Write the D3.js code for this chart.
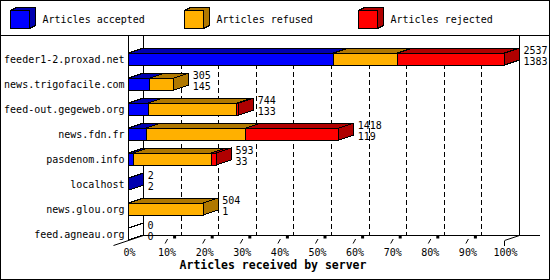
<!DOCTYPE html>
<html>
<head>
<meta charset="utf-8">
<script src="https://cdn.jsdelivr.net/npm/d3@7"></script>
<style>
  body { margin: 0; background: #fff; }
  text { font-family: "DejaVu Sans Mono", monospace; font-size: 10px; fill: #000; }
</style>
</head>
<body>
<div id="chart1"></div>
<script>
// Data
const servers = ["feeder1-2.proxad.net", "news.trigofacile.com", "feed-out.gegeweb.org", "news.fdn.fr",
                 "pasdenom.info", "localhost", "news.glou.org", "feed.agneau.org"];
const accepted = [1383, 145, 133, 119, 33, 2, 1, 0];
const refused  = [432, 160, 598, 672, 526, 0, 503, 0];
const rejected = [722, 0, 13, 627, 34, 0, 0, 0];
const seriesNames = ["Articles accepted", "Articles refused", "Articles rejected"];
const xTicks = [0, 10, 20, 30, 40, 50, 60, 70, 80, 90, 100];

const colors = ["#0000ff", "#ffb000", "#ff0000"];
const darks  = ["#0000b0", "#b07800", "#b00000"];

createChart();

function createChart() {
    const width = 550, height = 280;
    const DX = 15, DY = 5; // depth of the 3d box

    const svg = d3.select("#chart1").append("svg")
        .attr("width", width)
        .attr("height", height);

    const totals = servers.map((s, i) => accepted[i] + refused[i] + rejected[i]);
    const maxTotal = d3.max(totals);

    const x = d3.scaleLinear().domain([0, 100]).range([128.5, 504.5]);
    const y = d3.scalePoint().domain(servers).range([59, 234]);
    const pct = v => v / maxTotal * 100;

    const floorY = y(servers[servers.length - 1]) + 6.5;

    // frame + legend separator
    svg.append("rect").attr("x", 0.5).attr("y", 0.5).attr("width", 549).attr("height", 279)
        .attr("fill", "white").attr("stroke", "black");
    svg.append("line").attr("x1", 0).attr("x2", width).attr("y1", 35.5).attr("y2", 35.5).attr("stroke", "black");

    // legend
    const legend = svg.append("g").attr("shape-rendering", "crispEdges");
    seriesNames.forEach((name, i) => {
        const lx = 10.5 + i * 174, ly = 10.5, w = 19, h = 18, dx = 6, dy = 3;
        legend.append("polygon")
            .attr("points", `${lx},${ly} ${lx + dx},${ly - dy} ${lx + w + dx},${ly - dy} ${lx + w + dx},${ly + h - dy} ${lx + w},${ly + h} ${lx + w},${ly}`)
            .attr("fill", darks[i]).attr("stroke", "black");
        legend.append("rect").attr("x", lx).attr("y", ly).attr("width", w).attr("height", h)
            .attr("fill", colors[i]).attr("stroke", "black");
        svg.append("text").attr("x", lx + 32).attr("y", 23).text(name);
    });

    const grid = svg.append("g").attr("shape-rendering", "crispEdges").attr("stroke", "black");

    // back wall dashed gridlines
    grid.selectAll(".gl")
        .data(xTicks.filter(t => t > 0 && t < 100))
        .join("line")
            .attr("x1", d => x(d) + DX).attr("x2", d => x(d) + DX)
            .attr("y1", 48).attr("y2", floorY - DY)
            .attr("stroke-dasharray", "5,3");

    // back wall edges and floor
    grid.append("line").attr("x1", x(0) + DX).attr("x2", x(0) + DX).attr("y1", 36).attr("y2", floorY - DY);
    grid.append("line").attr("x1", x(100) + DX).attr("x2", x(100) + DX).attr("y1", 36).attr("y2", floorY - DY);
    grid.append("line").attr("x1", x(0) + DX).attr("x2", 540).attr("y1", floorY - DY).attr("y2", floorY - DY);
    grid.append("line").attr("x1", x(0)).attr("x2", x(0)).attr("y1", 36).attr("y2", floorY);

    // floor depth lines / ticks
    svg.append("line").attr("x1", x(0) - DX).attr("y1", floorY + DY).attr("x2", x(0) + DX).attr("y2", floorY - DY)
        .attr("stroke", "black");
    svg.append("line").attr("x1", x(100)).attr("y1", floorY).attr("x2", x(100) + DX).attr("y2", floorY - DY)
        .attr("stroke", "black");
    grid.append("line").attr("x1", x(100)).attr("x2", x(100)).attr("y1", floorY).attr("y2", floorY + 5);
    const mid = xTicks.filter(t => t > 0 && t < 100);
    svg.selectAll(".tk")
        .data(mid)
        .join("line")
            .attr("x1", d => x(d) - 1).attr("y1", floorY + 3)
            .attr("x2", d => x(d) + 1.5).attr("y2", floorY - 1.5)
            .attr("stroke", "black");
    svg.selectAll(".sq")
        .data(mid)
        .join("rect")
            .attr("x", d => x(d) + 7).attr("y", floorY - 4.5)
            .attr("width", 3).attr("height", 2.5)
            .attr("fill", "black");

    // tick labels
    svg.selectAll(".tl")
        .data(xTicks)
        .join("text")
            .attr("x", d => x(d) + 1)
            .attr("y", 256)
            .attr("text-anchor", "middle")
            .text(d => d + "%");

    // axis title
    svg.append("text")
        .attr("x", 273).attr("y", 268.5)
        .attr("text-anchor", "middle")
        .style("font-size", "11.5px")
        .style("font-weight", "bold")
        .text("Articles received by server");

    // category labels
    svg.selectAll(".cat")
        .data(servers)
        .join("text")
            .attr("x", 124.5)
            .attr("y", d => y(d) + 3.5)
            .attr("text-anchor", "end")
            .text(d => d);

    // bars
    const bars = svg.append("g").attr("stroke", "black").attr("shape-rendering", "crispEdges");
    servers.forEach((s, i) => {
        const c = y(s), yt = c - 6, yb = c + 6;
        const vals = [accepted[i], refused[i], rejected[i]];
        let cum = 0, last = -1;
        vals.forEach((v, k) => {
            if (v <= 0) return;
            const x0 = x(pct(cum)), x1 = x(pct(cum + v));
            cum += v;
            last = k;
            bars.append("polygon")
                .attr("points", `${x0},${yt} ${x0 + DX},${yt - DY} ${x1 + DX},${yt - DY} ${x1},${yt}`)
                .attr("fill", darks[k]);
            bars.append("rect")
                .attr("x", x0).attr("y", yt)
                .attr("width", x1 - x0).attr("height", yb - yt)
                .attr("fill", colors[k]);
        });
        const xe = x(pct(cum));
        bars.append("polygon")
            .attr("points", `${xe},${yt} ${xe + DX},${yt - DY} ${xe + DX},${yb - DY} ${xe},${yb}`)
            .attr("fill", last >= 0 ? darks[last] : "white");

        // value labels: total and accepted
        svg.append("text").attr("x", xe + DX + 4).attr("y", c - 5).text(totals[i]);
        svg.append("text").attr("x", xe + DX + 4).attr("y", c + 6).text(accepted[i]);
    });

    console.log("Chart created");
}
</script>
</body>
</html>
